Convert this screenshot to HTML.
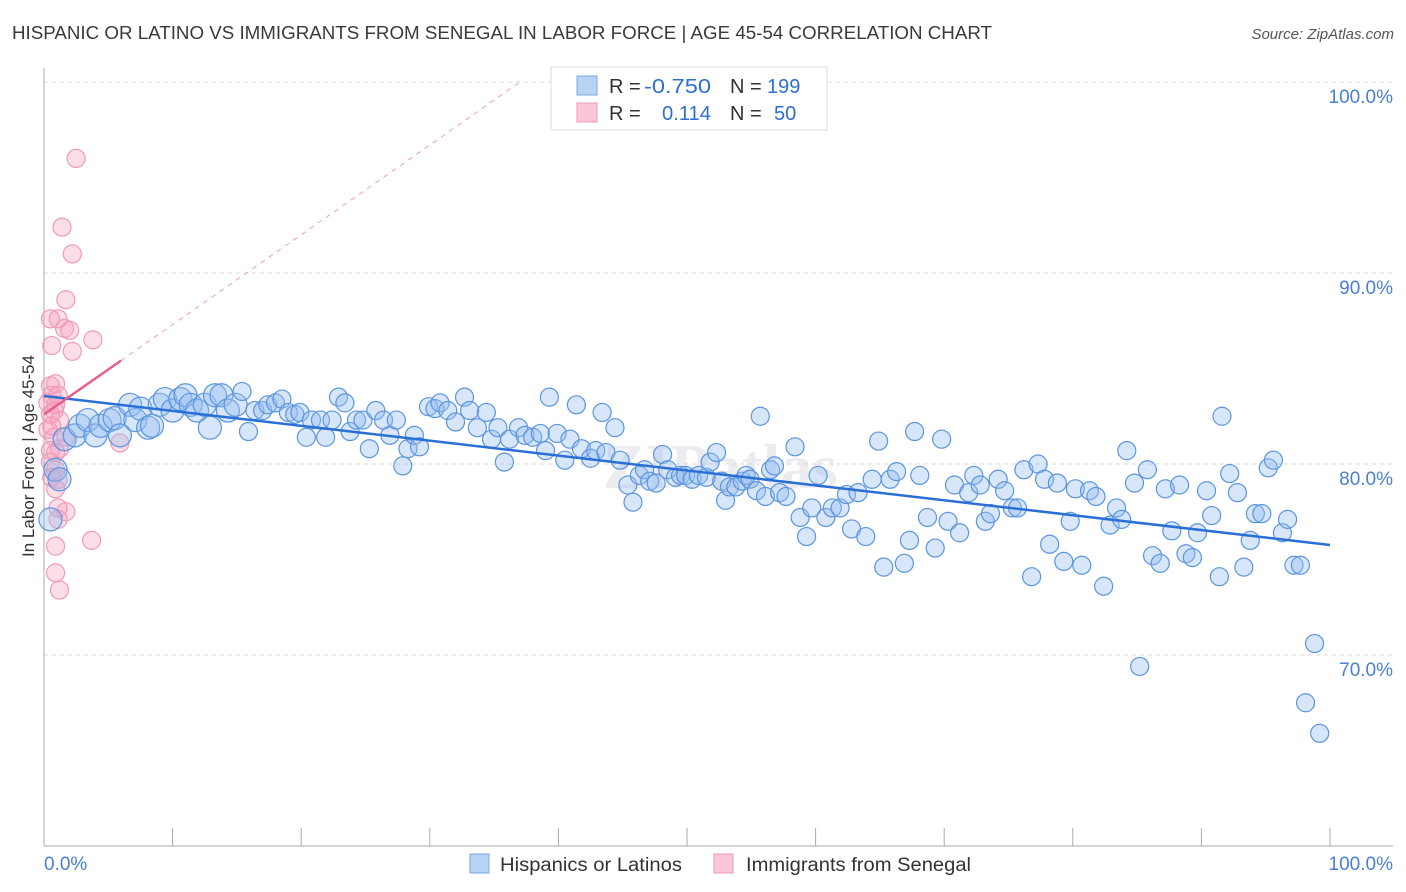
<!DOCTYPE html>
<html><head><meta charset="utf-8"><style>
body{margin:0;background:#fff;font-family:"Liberation Sans",sans-serif;}
svg{display:block}
</style></head><body>
<svg id="c" width="1406" height="892" xmlns="http://www.w3.org/2000/svg">
<text x="12" y="39" font-size="18" fill="#3a3a3a" textLength="980" lengthAdjust="spacingAndGlyphs">HISPANIC OR LATINO VS IMMIGRANTS FROM SENEGAL IN LABOR FORCE | AGE 45-54 CORRELATION CHART</text>
<text x="1394" y="39" font-size="15" fill="#555" text-anchor="end" font-style="italic">Source: ZipAtlas.com</text>
<text x="720" y="488" font-size="64" fill="#ececf0" text-anchor="middle" font-weight="bold" font-family="Liberation Serif">ZIPatlas</text>
<g id="grid"></g>
<g id="marks"></g>
<text transform="translate(34,456) rotate(-90)" font-size="17" fill="#333" text-anchor="middle">In Labor Force | Age 45-54</text>
<text x="44" y="870" font-size="19" fill="#4a7fd4">0.0%</text>
<text x="1393" y="870" font-size="19" fill="#4a7fd4" text-anchor="end">100.0%</text>
<g>
<rect x="551" y="67" width="276" height="63" fill="#fff" stroke="#ddd"/>
<rect x="577" y="76" width="20" height="19" fill="#b9d3f5" stroke="#7aa7e6"/>
<rect x="577" y="103" width="20" height="19" fill="#fbc6d6" stroke="#ee9ab4"/>
<text x="609" y="93" font-size="20" fill="#333">R = <tspan x="644" fill="#2f6fd0" textLength="67" lengthAdjust="spacingAndGlyphs">-0.750</tspan></text>
<text x="730" y="93" font-size="20" fill="#333">N = <tspan x="767" fill="#2f6fd0">199</tspan></text>
<text x="609" y="120" font-size="20" fill="#333">R = <tspan x="662" fill="#2f6fd0" textLength="49" lengthAdjust="spacingAndGlyphs">0.114</tspan></text>
<text x="730" y="120" font-size="20" fill="#333">N = <tspan x="774" fill="#2f6fd0">50</tspan></text>
</g>
<g>
<rect x="470" y="854" width="19" height="19" fill="#b9d3f5" stroke="#7aa7e6"/>
<text x="500" y="871" font-size="19" fill="#333" textLength="182" lengthAdjust="spacingAndGlyphs">Hispanics or Latinos</text>
<rect x="714" y="854" width="19" height="19" fill="#fbc6d6" stroke="#ee9ab4"/>
<text x="746" y="871" font-size="19" fill="#333" textLength="225" lengthAdjust="spacingAndGlyphs">Immigrants from Senegal</text>
</g>
</svg>
<script>
const blueX=[0.5,0.9,1.2,1.6,2.4,2.8,3.4,4.0,4.4,5.1,5.5,5.9,6.7,7.1,7.5,8.1,8.4,9.0,9.4,10.0,10.6,11.0,11.4,11.9,12.5,12.9,13.3,13.8,14.3,14.9,15.4,15.9,16.4,17.0,17.4,18.0,18.5,19.0,19.5,19.9,20.4,20.8,21.5,21.9,22.4,22.9,23.4,23.8,24.3,24.8,25.3,25.8,26.4,26.9,27.4,27.9,28.3,28.8,29.2,29.9,30.4,30.8,31.4,32.0,32.7,33.1,33.7,34.4,34.8,35.3,35.8,36.2,36.9,37.4,38.0,38.6,39.0,39.3,39.9,40.5,40.9,41.4,41.8,42.5,42.9,43.4,43.7,44.4,44.8,45.4,45.8,46.3,46.7,47.1,47.6,48.1,48.5,49.1,49.5,49.9,50.4,50.9,51.5,51.8,52.3,52.7,53.0,53.3,53.8,54.3,54.6,54.9,55.4,55.7,56.1,56.5,56.8,57.2,57.7,58.4,58.8,59.3,59.7,60.2,60.8,61.3,61.9,62.4,62.8,63.3,63.9,64.4,64.9,65.3,65.8,66.3,66.9,67.3,67.7,68.1,68.7,69.3,69.8,70.3,70.8,71.2,71.9,72.3,72.8,73.2,73.6,74.2,74.7,75.3,75.7,76.2,76.8,77.3,77.8,78.2,78.8,79.3,79.8,80.2,80.7,81.3,81.8,82.4,82.9,83.4,83.8,84.2,84.8,85.2,85.8,86.2,86.8,87.2,87.7,88.3,88.8,89.3,89.7,90.4,90.8,91.4,91.6,92.2,92.8,93.3,93.8,94.2,94.7,95.2,95.6,96.3,96.7,97.2,97.7,98.1,98.8,99.2];
const blueY=[77.1,79.7,79.2,81.3,81.5,82.0,82.3,81.5,82.0,82.3,82.4,81.5,83.1,82.3,82.9,81.9,82.0,83.1,83.4,82.8,83.4,83.6,83.1,82.8,83.1,81.9,83.6,83.6,82.8,83.1,83.8,81.7,82.8,82.8,83.1,83.2,83.4,82.7,82.6,82.7,81.4,82.3,82.3,81.4,82.3,83.5,83.2,81.7,82.3,82.3,80.8,82.8,82.3,81.5,82.3,79.9,80.8,81.5,80.9,83.0,82.9,83.2,82.8,82.2,83.5,82.8,81.9,82.7,81.3,81.9,80.1,81.3,81.9,81.5,81.4,81.6,80.7,83.5,81.6,80.2,81.3,83.1,80.8,80.3,80.7,82.7,80.6,81.9,80.2,78.9,78.0,79.4,79.7,79.1,79.0,80.5,79.7,79.3,79.4,79.4,79.2,79.4,79.3,80.1,80.6,79.1,78.1,78.8,78.8,79.1,79.4,79.2,78.6,82.5,78.3,79.7,79.9,78.5,78.3,80.9,77.2,76.2,77.7,79.4,77.2,77.7,77.7,78.4,76.6,78.5,76.2,79.2,81.2,74.6,79.2,79.6,74.8,76.0,81.7,79.4,77.2,75.6,81.3,77.0,78.9,76.4,78.5,79.4,78.9,77.0,77.4,79.2,78.6,77.7,77.7,79.7,74.1,80.0,79.2,75.8,79.0,74.9,77.0,78.7,74.7,78.6,78.3,73.6,76.8,77.7,77.1,80.7,79.0,69.4,79.7,75.2,74.8,78.7,76.5,78.9,75.3,75.1,76.4,78.6,77.3,74.1,82.5,79.5,78.5,74.6,76.0,77.4,77.4,79.8,80.2,76.4,77.1,74.7,74.7,67.5,70.6,65.9];
const pinkX=[2.5,1.4,2.2,1.7,0.5,1.1,1.6,2.0,3.8,0.6,2.2,0.5,0.9,0.6,1.1,0.3,0.8,0.5,0.9,1.2,0.3,0.8,1.7,1.2,0.5,0.9,0.5,0.9,0.6,1.1,0.9,1.1,1.7,1.1,3.7,0.9,0.9,1.2,5.9,0.6];
const pinkY=[96.0,92.4,91.0,88.6,87.6,87.6,87.1,87.0,86.5,86.2,85.9,84.1,84.2,83.6,83.6,83.2,82.8,82.6,83.1,82.3,81.8,81.4,81.4,80.8,80.7,80.6,80.1,79.7,79.3,79.2,78.7,77.7,77.5,77.1,76.0,75.7,74.3,73.4,81.1,82.0];
const yTicks=[100,90,80,70];
const yTickLabels=["100.0%","90.0%","80.0%","70.0%"];
const xTicks=[0,10,20,30,40,50,60,70,80,90,100];
const blueTrend=[83.56,75.76];
const pinkIntercept=82.6, pinkSlope=0.47, pinkSolidEnd=6;

const NS="http://www.w3.org/2000/svg";
const X=v=>44+v*12.86;
const Y=v=>82+(100-v)*19.1;
function mk(tag,attrs,parent){const e=document.createElementNS(NS,tag);for(const k in attrs)e.setAttribute(k,attrs[k]);parent.appendChild(e);return e;}
const grid=document.getElementById('grid'), marks=document.getElementById('marks');
yTicks.forEach((t,i)=>{
  const l=mk('line',{x1:44,x2:1393,y1:Y(t),y2:Y(t),stroke:'#d8d8d8','stroke-dasharray':'4,4'},grid);
  
  
  const tx=mk('text',{x:1393,y:Y(t)+21,'font-size':19,fill:'#4a7fd4','text-anchor':'end'},grid);
  tx.textContent=yTickLabels[i];
  
  
});
const ax=mk('line',{x1:44,x2:44,y1:68,y2:846,stroke:'#aaa'},grid);


const bx=mk('line',{x1:44,x2:1393,y1:846,y2:846,stroke:'#aaa'},grid);


xTicks.forEach(t=>{
  const l=mk('line',{x1:X(t),x2:X(t),y1:828,y2:846,stroke:'#aaa'},grid);
  
  
});
pinkX.forEach((v,i)=>{
  const c=mk('circle',{cx:X(v),cy:Y(pinkY[i]),r:9,fill:'rgba(246,160,190,0.35)',stroke:'#f29ab6','stroke-width':1.2},marks);
  
  
});
blueX.forEach((v,i)=>{
  const r=v<15?11.5:9;
  const c=mk('circle',{cx:X(v),cy:Y(blueY[i]),r:r,fill:'rgba(150,190,240,0.38)',stroke:'#5b95e0','stroke-width':1.2},marks);
  
  
});
const bt=mk('line',{x1:X(0),y1:Y(blueTrend[0]),x2:X(100),y2:Y(blueTrend[1]),stroke:'#2a6fd6','stroke-width':2.5},marks);


const xEnd=(100-pinkIntercept)/pinkSlope;
const pd=mk('line',{x1:X(pinkSolidEnd),y1:Y(pinkIntercept+pinkSlope*pinkSolidEnd),x2:X(xEnd),y2:Y(100),stroke:'#eca0b8','stroke-width':1,'stroke-dasharray':'5,5'},marks);


const pt=mk('line',{x1:X(0),y1:Y(pinkIntercept),x2:X(pinkSolidEnd),y2:Y(pinkIntercept+pinkSlope*pinkSolidEnd),stroke:'#e8608a','stroke-width':2.5},marks);


</script>
</body></html>
